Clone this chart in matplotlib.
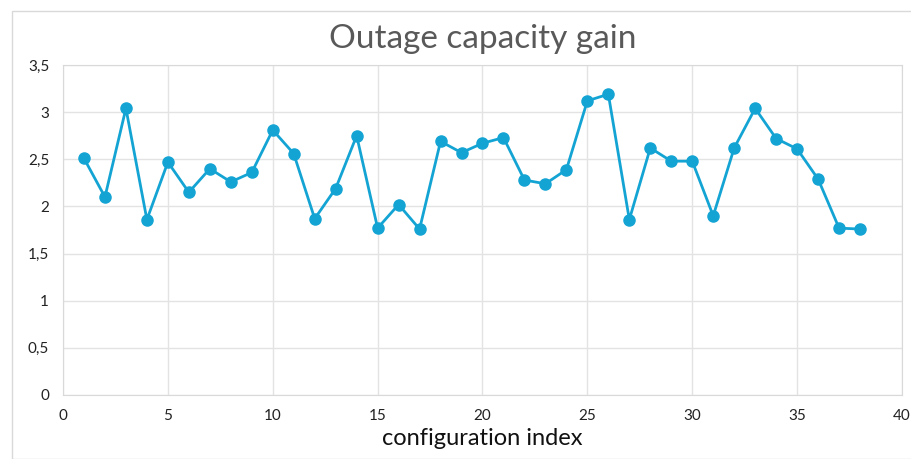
import matplotlib.pyplot as plt
from matplotlib.ticker import FuncFormatter

config_index = list(range(1, 39))
capacity_gain = [2.51, 2.10, 3.04, 1.86, 2.47, 2.15, 2.40, 2.26, 2.36, 2.81,
                 2.56, 1.87, 2.19, 2.75, 1.77, 2.02, 1.76, 2.69, 2.57, 2.67,
                 2.73, 2.28, 2.24, 2.39, 3.12, 3.19, 1.86, 2.62, 2.48, 2.48,
                 1.90, 2.62, 3.04, 2.72, 2.61, 2.29, 1.77, 1.76]
x_ticks = [0, 5, 10, 15, 20, 25, 30, 35, 40]
y_ticks = [0, 0.5, 1, 1.5, 2, 2.5, 3, 3.5]


def comma_fmt(value, pos):
    # decimal comma like the original spreadsheet
    if value == int(value):
        return str(int(value))
    return f"{value:g}".replace(".", ",")


plt.rcParams['font.family'] = ['Lato', 'DejaVu Sans']

fig = plt.figure(figsize=(9.12, 4.59), dpi=100)
ax = fig.add_axes([63 / 912, 1 - 395 / 459, (902 - 63) / 912, (395 - 65) / 459])

# outer chart border
fig.patches.append(plt.Rectangle((12 / 912, 0), 1, 1 - 11 / 459, transform=fig.transFigure,
                                 fill=False, edgecolor="#d9d9d9", linewidth=1))

ax.plot(config_index, capacity_gain, color="#14a4d4", linewidth=2,
        marker="o", markersize=8, zorder=3)

ax.set_xlim(0, 40)
ax.set_ylim(0, 3.5)
ax.set_xticks(x_ticks)
ax.set_yticks(y_ticks)
ax.xaxis.set_major_formatter(FuncFormatter(comma_fmt))
ax.yaxis.set_major_formatter(FuncFormatter(comma_fmt))
ax.grid(True, color="#e3e3e3", linewidth=1)
ax.set_axisbelow(True)
for side in ax.spines.values():
    side.set_color("#d9d9d9")
ax.tick_params(length=0, labelsize=11, colors="#222222", pad=10)

ax.set_title("Outage capacity gain", fontsize=24, color="#595959", pad=12)
ax.set_xlabel("configuration index", fontsize=17, color="#111111", labelpad=4)

fig.savefig("out.png", dpi=100)
